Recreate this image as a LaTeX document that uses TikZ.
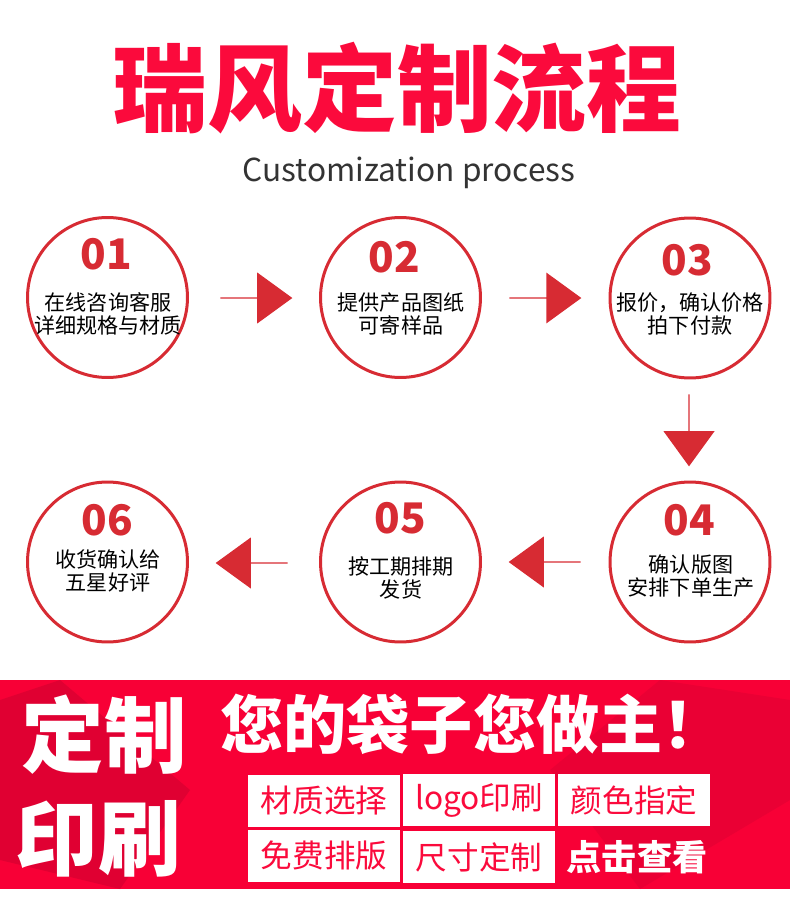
\documentclass[tikz,border=0pt]{standalone}
\usepackage{fontspec}
\setmainfont{Noto Sans CJK SC}
\usetikzlibrary{positioning, shapes.arrows}
\definecolor{ringred}{HTML}{D72B33}
\definecolor{titlered}{HTML}{FB0A3C}
\definecolor{bannerred}{HTML}{F80036}
\definecolor{facetred}{HTML}{E00032}
\newcommand{\fsize}[1]{\fontsize{#1}{#1}\selectfont}

\begin{document}
\begin{tikzpicture}[x=0.02cm, y=-0.02cm,
		stepring/.style={draw=ringred, circle, line width=0.06cm, minimum size=3.2cm, inner sep=0pt},
		stepnum/.style={text=ringred, font=\fsize{24}\bfseries},
		stepcap/.style={align=center, text=black, font=\fontsize{12}{13.2}\selectfont},
		blockarrow/.style={single arrow, fill=ringred, inner sep=0pt, anchor=tail, minimum height=1.44cm, minimum width=1.02cm, single arrow head extend=0.26cm, single arrow tip angle=72},
		optbox/.style={fill=white, minimum width=3.04cm, minimum height=1.04cm, inner sep=0pt, text=titlered, font=\fsize{18}},
		bigword/.style={text=white, font=\fsize{47}\bfseries}]
		\useasboundingbox (0,0) rectangle (790,919);

		\node[text=titlered, font=\fsize{54}\bfseries] (title) at (397,88) {瑞风定制流程};
		\node[text=black!80, font=\fsize{18}] (subtitle) at (409,173) {Customization process};

		\node[stepring] (c1) at (107.5,297.5) {};
		\node[stepring] (c2) at (400.5,297.5) {};
		\node[stepring] (c3) at (690,298) {};
		\node[stepring] (c4) at (690,562) {};
		\node[stepring] (c5) at (400.5,562) {};
		\node[stepring] (c6) at (107.5,562) {};

		\node[stepnum] (n1) at (106,254) {01};
		\node[stepnum] (n2) at (394,257) {02};
		\node[stepnum] (n3) at (687,260) {03};
		\node[stepnum] (n4) at (689,520) {04};
		\node[stepnum] (n5) at (400,518) {05};
		\node[stepnum] (n6) at (107,520) {06};

		\node[stepcap] (t1) at (108,314) {在线咨询客服\\详细规格与材质};
		\node[stepcap] (t2) at (401,314) {提供产品图纸\\可寄样品};
		\node[stepcap] (t3) at (690,314) {报价，确认价格\\拍下付款};
		\node[stepcap] (t4) at (691,576) {确认版图\\安排下单生产};
		\node[stepcap] (t5) at (401,578) {按工期排期\\发货};
		\node[stepcap] (t6) at (108,571) {收货确认给\\五星好评};

		\node[blockarrow] (a1) at (220,298) {};
		\node[blockarrow] (a2) at (509,298) {};
		\node[blockarrow, shape border rotate=270] (a3) at (689,394) {};
		\node[blockarrow, shape border rotate=180] (a4) at (581,562) {};
		\node[blockarrow, shape border rotate=180] (a5) at (288,563) {};

		% banner
		\fill[bannerred] (0,680) rectangle (790,889);
		\fill[facetred] (0,700) -- (60,680) -- (190,790) -- (120,889) -- (0,860) -- cycle;
		\fill[facetred!60!bannerred] (550,770) -- (660,680) -- (790,700) -- (790,800) -- (640,889) -- cycle;

		\node[bigword] (w1) at (104,735) {定制};
		\node[bigword] (w2) at (98,839) {印刷};
		\node[text=white, font=\fsize{36}\bfseries] (slogan) at (473,724) {您的袋子您做主！};

		\node[optbox] (b1) at (324,801) {材质选择};
		\node[optbox] (b2) at (479,800) {logo印刷};
		\node[optbox] (b3) at (634,800) {颜色指定};
		\node[optbox] (b4) at (324,856) {免费排版};
		\node[optbox] (b5) at (479,857) {尺寸定制};
		\node[text=white, font=\fsize{20}\bfseries] (more) at (637,857) {点击查看};
	\end{tikzpicture}
\end{document}
